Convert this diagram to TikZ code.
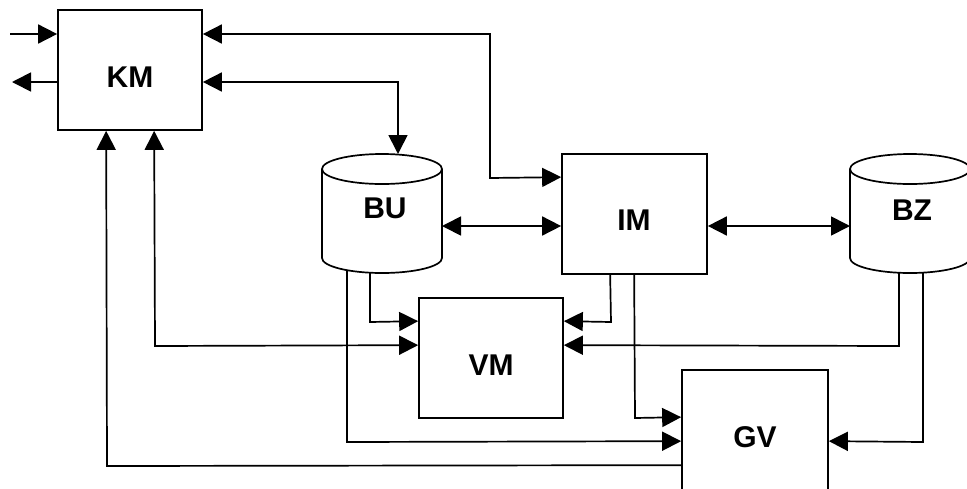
\documentclass[tikz,border=0pt]{standalone}
\usepackage{fontspec}
\setmainfont{Liberation Sans}
\usetikzlibrary{arrows.meta,calc}
\begin{document}
\begin{tikzpicture}[x=1pt,y=-1pt,
  line width=1.7pt,
  box/.style={draw,line width=1.7pt,minimum width=144pt,minimum height=120pt,inner sep=0pt},
  lbl/.style={font=\fontsize{30}{36}\selectfont\bfseries,inner sep=0pt},
  tip/.style={-{Triangle[length=19pt,width=19pt]}},
  tips/.style={{Triangle[length=19pt,width=19pt]}-{Triangle[length=19pt,width=19pt]}},
  tipin/.style={{Triangle[length=19pt,width=19pt]}-}]
\clip (0,0) rectangle (967,488);
\fill[white] (0,0) rectangle (967,488);
% boxes
\node[box] (KM) at (130,70) {};
\node[box,minimum width=145pt] (IM) at (634.5,214) {};
\node[box] (VM) at (491,358) {};
\node[box,minimum width=146pt] (GV) at (755,430) {};
% cylinders
\draw (322,169) -- (322,258) arc[start angle=180,end angle=360,x radius=60pt,y radius=15pt] -- (442,169);
\draw (382,169) ellipse[x radius=60pt,y radius=15pt];
\draw (850,169) -- (850,258) arc[start angle=180,end angle=360,x radius=60pt,y radius=15pt] -- (970,169);
\draw (910,169) ellipse[x radius=60pt,y radius=15pt];
\coordinate (BUtop) at (398,154);
\coordinate (BUeast) at (442,226);
\coordinate (BUb1) at (347,270);
\coordinate (BUb2) at (370,272.5);
\coordinate (BZwest) at (850,226);
\coordinate (BZb1) at (899,272.5);
\coordinate (BZb2) at (923,272.5);
\coordinate (inL) at (10,34);
\coordinate (outL) at (12,82);
% labels
\node[lbl] (tKM) at (130,77) {KM};
\node[lbl] (tBU) at (385,208) {BU};
\node[lbl] (tIM) at (634,220) {IM};
\node[lbl] (tBZ) at (912,210) {BZ};
\node[lbl] (tVM) at (491,365) {VM};
\node[lbl] (tGV) at (755,437) {GV};
% connectors
\draw[tip] (inL) -- (inL -| KM.west);
\draw[tip] (outL -| KM.west) -- (outL);
\draw[tips] (inL -| KM.east) -- (490,34) -- (490,178) -- ($(IM.north west)+(0,24)$);
\draw[tips] (outL -| KM.east) -- (BUtop |- outL) -- (BUtop);
\draw[tips] (BUeast) -- (BUeast -| IM.west);
\draw[tips] (BZwest -| IM.east) -- (BZwest);
\draw[tip] (BUb2) -- (370,322) -- ($(VM.north west)+(0,24)$);
\draw[tip] (BUb1) -- (347,442) -- ($(GV.north west)+(0,72)$);
\draw[tips] ($(KM.south west)+(97,0)$) -- (155,346) -- ($(VM.north west)+(0,48)$);
\draw[tipin] ($(KM.south west)+(49,0)$) -- (107,466) -- ($(GV.north west)+(0,96)$);
\draw[tip] ($(IM.south west)+(49,0)$) -- (611,322) -- ($(VM.north east)+(0,24)$);
\draw[tip] ($(IM.south west)+(73,0)$) -- (635,418) -- ($(GV.north west)+(0,48)$);
\draw[tip] (BZb1) -- (899,346) -- ($(VM.north east)+(0,48)$);
\draw[tip] (BZb2) -- (923,442) -- ($(GV.north east)+(0,72)$);
\end{tikzpicture}
\end{document}
